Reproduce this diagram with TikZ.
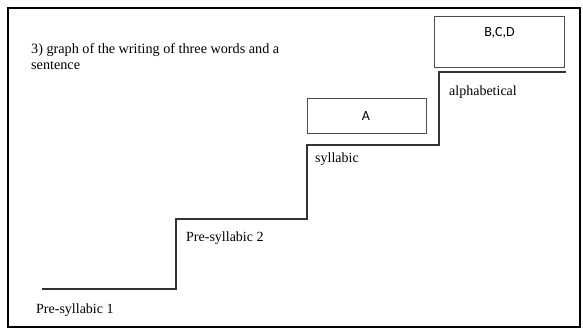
\documentclass[tikz,border=0pt]{standalone}
\usepackage{fontspec}
\setmainfont{Liberation Serif}
\newfontfamily\boxfont{Carlito}
\begin{document}
\begin{tikzpicture}[x=1pt,y=-1pt,
  lbl/.style={font=\fontsize{14}{16}\selectfont, anchor=west, inner sep=0pt},
  stair/.style={line width=1.3pt, draw=black!80},
  gbox/.style={draw=black!70, line width=0.6pt},
  boxtxt/.style={font=\boxfont\fontsize{14}{16}\selectfont, inner sep=0pt}]
\useasboundingbox (0,0) rectangle (583,329);
\draw[line width=1.2pt] (8,8) rectangle (580,327);
\node[font=\fontsize{14.2}{15.5}\selectfont, anchor=base west, align=left, inner sep=0pt] (title) at (31,69) {3) graph of the writing of three words and a\\sentence};
\coordinate (s0) at (42,289);
\coordinate (s1) at (176,289);
\coordinate (s2) at (176,219);
\coordinate (s3) at (307,219);
\coordinate (s4) at (307,145);
\coordinate (s5) at (439,145);
\coordinate (s6) at (439,72);
\coordinate (s7) at (566,72);
\draw[stair] (s0) -- (s1) -- (s2) -- (s3) -- (s4) -- (s5) -- (s6) -- (s7);
\node[gbox, minimum width=119pt, minimum height=35pt, anchor=north west, inner sep=0pt] (boxA) at (307,98) {};
\node[boxtxt] (tA) at (366,116) {A};
\node[gbox, minimum width=130pt, minimum height=51pt, anchor=north west, inner sep=0pt] (boxB) at (434,16) {};
\node[boxtxt] (tB) at (499.5,33) {B,C,D};
\node[lbl] (p1) at (36,310) {Pre-syllabic 1};
\node[lbl] (p2) at (186,238) {Pre-syllabic 2};
\node[lbl] (sy) at (315,159) {syllabic};
\node[lbl] (al) at (449,92) {alphabetical};
\end{tikzpicture}
\end{document}
